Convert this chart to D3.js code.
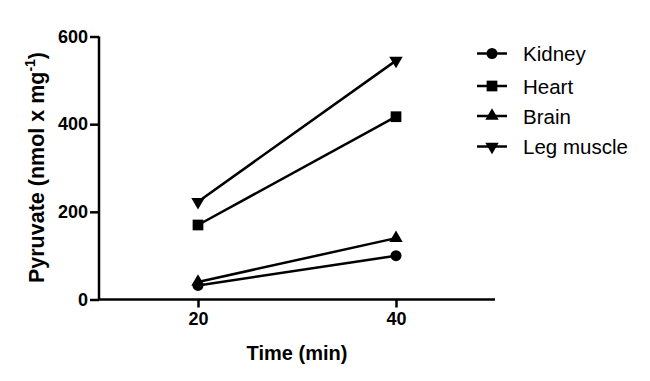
<!DOCTYPE html>
<html><head><meta charset="utf-8">
<script src="https://cdn.jsdelivr.net/npm/d3@7"></script>
<style>body{margin:0;background:#fff}svg{display:block}</style>
</head><body>
<svg id="c" width="650" height="381"></svg>
<script>
const times = [20, 40];
const seriesNames = ["Kidney", "Heart", "Brain", "Leg muscle"];
const kidney = [32, 100];
const heart = [170, 417];
const brain = [40, 140];
const legMuscle = [223, 545];
const yTicks = [0, 200, 400, 600];
const xTicks = [20, 40];
const symbolsList = ["circle", "square", "triangle", "triangleDown"];

const svg = d3.select("#c");
const x = d3.scaleLinear().domain([10, 50]).range([99, 495]);
const y = d3.scaleLinear().domain([0, 600]).range([299.5, 36.5]);
const font = "'Liberation Sans', Arial, sans-serif";

const seriesVals = [kidney, heart, brain, legMuscle];

function symPath(t){
  const g = {
    circle: d3.symbol(d3.symbolCircle, 95),
    square: d3.symbol(d3.symbolSquare, 115),
    triangle: d3.symbol(d3.symbolTriangle, 78),
    triangleDown: d3.symbol(d3.symbolTriangle, 78)
  };
  return g[t]();
}
function symTransform(t, cx, cy){
  if (t === "triangleDown") return `translate(${cx},${cy}) rotate(180)`;
  return `translate(${cx},${cy})`;
}

// axes
const yAxis = svg.append("g").attr("transform","translate(99,0)")
  .call(d3.axisLeft(y).tickValues(yTicks).tickSize(9).tickPadding(2));
const xAxis = svg.append("g").attr("transform","translate(0,299.5)")
  .call(d3.axisBottom(x).tickValues(xTicks).tickSize(8).tickPadding(5));
[yAxis, xAxis].forEach(a=>{
  a.select(".domain").attr("stroke","#000").attr("stroke-width",2.5);
  a.selectAll(".tick line").attr("stroke","#000").attr("stroke-width",2.5);
  a.selectAll(".tick text").attr("font-family",font).attr("font-weight","bold")
    .attr("font-size",18).attr("fill","#000");
});
yAxis.select(".domain").attr("d", `M0,${y(600)}V${y(0)}`);
xAxis.select(".domain").attr("d", `M${x(10)},0H${x(50)}`);

// lines
const line = d3.line().x((d,i)=>x(times[i])).y(d=>y(d));
seriesVals.forEach((vals, k)=>{
  svg.append("path").attr("d", line(vals)).attr("fill","none")
    .attr("stroke","#000").attr("stroke-width",2.5);
  vals.forEach((v,i)=>{
    svg.append("path").attr("d", symPath(symbolsList[k]))
      .attr("transform", symTransform(symbolsList[k], x(times[i]), y(v)))
      .attr("fill","#000");
  });
});

// axis titles
svg.append("text").attr("x", 297).attr("y", 360).attr("text-anchor","middle")
  .attr("font-family",font).attr("font-weight","bold").attr("font-size",20)
  .text("Time (min)");
const yt = svg.append("text").attr("transform","translate(44,167.5) rotate(-90)")
  .attr("text-anchor","middle").attr("font-family",font).attr("font-weight","bold")
  .attr("font-size",21.5);
yt.append("tspan").text("Pyruvate (nmol x mg");
yt.append("tspan").attr("dy",-9).attr("font-size",14).text("-1");
yt.append("tspan").attr("dy",9).text(")");

// legend
const legY = [53.5, 86, 116, 146.5];
seriesNames.forEach((n,k)=>{
  const cy = legY[k];
  svg.append("line").attr("x1",477).attr("x2",507).attr("y1",cy).attr("y2",cy)
    .attr("stroke","#000").attr("stroke-width",2.5);
  svg.append("path").attr("d", symPath(symbolsList[k]))
    .attr("transform", symTransform(symbolsList[k], 492, cy)).attr("fill","#000");
  svg.append("text").attr("x",523).attr("y",cy+7.5).attr("font-family",font)
    .attr("font-size",20.5).attr("fill","#000").text(n);
});
</script>
</body></html>
